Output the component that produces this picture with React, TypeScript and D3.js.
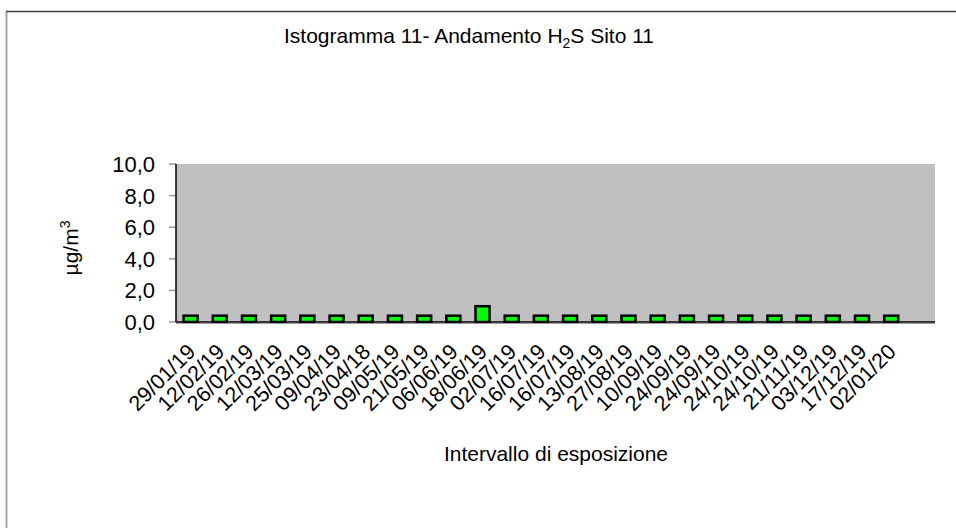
import React from "react";
import * as d3 from "d3";

const categories = [
  "29/01/19", "12/02/19", "26/02/19", "12/03/19", "25/03/19", "09/04/19",
  "23/04/18", "09/05/19", "21/05/19", "06/06/19", "18/06/19", "02/07/19",
  "16/07/19", "16/07/19", "13/08/19", "27/08/19", "10/09/19", "24/09/19",
  "24/09/19", "24/10/19", "24/10/19", "21/11/19", "03/12/19", "17/12/19",
  "02/01/20", "",
];
const values: (number | null)[] = [
  0.4, 0.4, 0.4, 0.4, 0.4, 0.4, 0.4, 0.4, 0.4, 0.4, 1.0, 0.4, 0.4, 0.4,
  0.4, 0.4, 0.4, 0.4, 0.4, 0.4, 0.4, 0.4, 0.4, 0.4, 0.4, null,
];
const yTicks = [0, 2, 4, 6, 8, 10];

const W = 956, H = 528;
const plot = { left: 176, right: 935, top: 164, bottom: 322 };
const FONT = "'Liberation Sans', Arial, Helvetica, sans-serif";

export default function App() {
  const x = d3.scaleBand<number>()
    .domain(d3.range(categories.length))
    .range([plot.left, plot.right])
    .paddingInner(0.52)
    .paddingOuter(0.26);
  const y = d3.scaleLinear().domain([0, 10]).range([plot.bottom, plot.top]);
  const fmt = (v: number) => d3.format(".1f")(v).replace(".", ",");

  return (
    <svg width={W} height={H} style={{ position: "absolute", left: 0, top: 0 }} fontFamily={FONT}>
      <rect x={0} y={0} width={W} height={H} fill="#fff" />
      {/* outer frame */}
      <line x1={6.5} y1={11} x2={6.5} y2={H} stroke="#a6a6a6" strokeWidth={2} />
      <line x1={6} y1={11.5} x2={W} y2={11.5} stroke="#404040" strokeWidth={1.3} />

      {/* title */}
      <text x={469} y={43} textAnchor="middle" fontSize={21} fill="#000">
        Istogramma 11- Andamento H<tspan fontSize={14} dy={5}>2</tspan>
        <tspan dy={-5}>S Sito 11</tspan>
      </text>

      {/* plot area */}
      <rect x={plot.left} y={plot.top} width={plot.right - plot.left} height={plot.bottom - plot.top} fill="#c0c0c0" />

      {/* y ticks */}
      {yTicks.map((t) => (
        <g key={t}>
          <line x1={plot.left - 7} x2={plot.left} y1={y(t)} y2={y(t)} stroke="#999" strokeWidth={1.5} />
          <text x={155} y={y(t) + 8} textAnchor="end" fontSize={22} fill="#000">{fmt(t)}</text>
        </g>
      ))}

      {/* bars */}
      {values.map((v, i) =>
        v == null ? null : (
          <rect key={i} x={x(i)!} y={y(v)} width={x.bandwidth()} height={y(0) - y(v)}
            fill="#00ff00" stroke="#000" strokeWidth={2.5} />
        )
      )}

      {/* axes */}
      <line x1={plot.left} x2={plot.right} y1={plot.bottom + 1.5} y2={plot.bottom + 1.5} stroke="#a0a0a0" strokeWidth={1} />
      <line x1={plot.left} x2={plot.right} y1={plot.bottom} y2={plot.bottom} stroke="#000" strokeWidth={1.5} />
      <line x1={plot.left} x2={plot.left} y1={plot.top} y2={plot.bottom} stroke="#000" strokeWidth={1.5} />

      {/* x labels */}
      {categories.map((c, i) => {
        const cx = x(i)! + x.bandwidth() / 2 + 6;
        const cy = 353;
        return (
          <text key={i} x={cx} y={cy} textAnchor="end" fontSize={21.5} fill="#000"
            transform={`rotate(-45 ${cx} ${cy})`}>{c}</text>
        );
      })}

      {/* axis titles */}
      <text x={556} y={461} textAnchor="middle" fontSize={21} fill="#000">Intervallo di esposizione</text>
      <text transform={`translate(78 248) rotate(-90)`} textAnchor="middle" fontSize={21} fill="#000">
        µg/m<tspan fontSize={14} dy={-8}>3</tspan>
      </text>
    </svg>
  );
}
